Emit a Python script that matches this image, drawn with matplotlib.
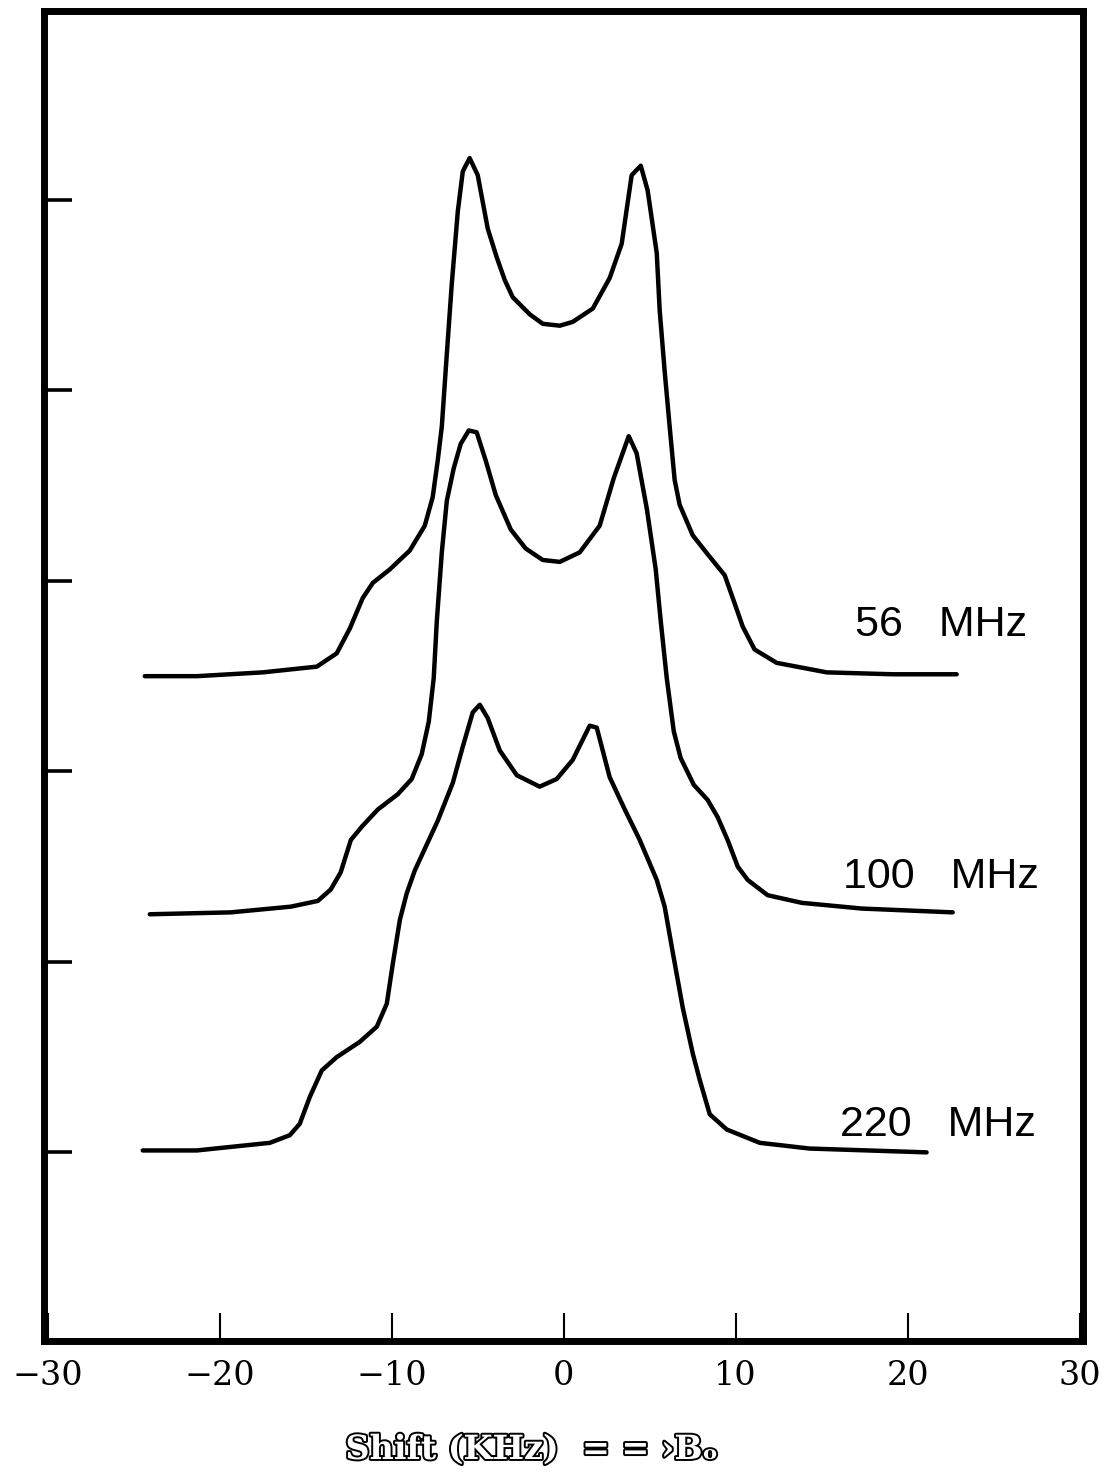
import matplotlib
matplotlib.use("Agg")
import matplotlib.pyplot as plt
import matplotlib.patheffects as pe

# ---- data (shift in kHz, intensity in offset units) ----
x_56 = [-24.36, -21.34, -17.50, -14.36, -13.20, -12.44, -11.69, -11.10, -10.12, -8.95,
        -8.08, -7.62, -7.33, -7.09, -6.80, -6.51, -6.16, -5.87, -5.47, -5.00,
        -4.42, -3.90, -3.43, -2.97, -1.98, -1.22, -0.23, 0.52, 1.69, 2.67, 3.37,
        3.95, 4.48, 4.88, 5.41, 5.58, 5.87, 6.16, 6.45, 6.74, 7.50,
        8.37, 9.36, 9.83, 10.41, 11.10, 12.38, 15.29, 19.13, 22.85]
y_56 = [2.50, 2.50, 2.52, 2.55, 2.62, 2.75, 2.91, 2.99, 3.06, 3.16,
        3.29, 3.44, 3.63, 3.81, 4.19, 4.56, 4.94, 5.15, 5.22, 5.13,
        4.85, 4.70, 4.58, 4.49, 4.40, 4.35, 4.34, 4.36, 4.43, 4.59, 4.77,
        5.13, 5.18, 5.05, 4.72, 4.42, 4.10, 3.81, 3.53, 3.40, 3.24,
        3.14, 3.03, 2.91, 2.76, 2.64, 2.57, 2.52, 2.51, 2.51]

x_100 = [-24.07, -19.36, -15.87, -14.30, -13.55, -12.97, -12.38, -11.74, -10.81, -9.65,
         -8.84, -8.26, -7.85, -7.56, -7.38, -7.09, -6.80, -6.40, -5.99, -5.52,
         -5.06, -4.53, -3.95, -3.08, -2.21, -1.22, -0.23, 0.93, 2.09, 2.91,
         3.78, 4.24, 4.83, 5.35, 5.64, 5.99, 6.40, 6.80, 7.56, 8.37,
         8.95, 9.53, 10.12, 10.70, 11.86, 13.84, 17.33, 22.62]
y_100 = [1.25, 1.26, 1.29, 1.32, 1.38, 1.47, 1.64, 1.71, 1.80, 1.88,
         1.96, 2.09, 2.26, 2.49, 2.79, 3.15, 3.42, 3.59, 3.72, 3.79,
         3.78, 3.63, 3.45, 3.27, 3.17, 3.11, 3.10, 3.15, 3.29, 3.54,
         3.76, 3.67, 3.38, 3.06, 2.79, 2.49, 2.21, 2.07, 1.93, 1.85,
         1.76, 1.64, 1.50, 1.43, 1.35, 1.31, 1.28, 1.26]

x_220 = [-24.48, -21.34, -17.09, -15.93, -15.35, -14.77, -14.07, -13.20, -11.86, -10.87,
         -10.29, -9.94, -9.53, -9.13, -8.66, -8.20, -7.33, -6.45, -5.87, -5.29,
         -4.88, -4.42, -3.72, -2.73, -1.40, -0.41, 0.52, 1.51, 1.92, 2.67,
         3.55, 4.42, 5.41, 5.87, 6.34, 6.92, 7.50, 7.91, 8.49, 9.48,
         11.40, 14.30, 21.10]
y_220 = [0.01, 0.01, 0.05, 0.09, 0.15, 0.29, 0.43, 0.50, 0.58, 0.66,
         0.78, 0.99, 1.22, 1.36, 1.48, 1.57, 1.74, 1.94, 2.13, 2.31,
         2.35, 2.28, 2.11, 1.98, 1.92, 1.96, 2.06, 2.24, 2.23, 1.97,
         1.80, 1.64, 1.43, 1.29, 1.05, 0.76, 0.52, 0.38, 0.20, 0.12,
         0.05, 0.02, 0.00]

labels = ["56   MHz", "100   MHz", "220   MHz"]
label_x = [16.92, 16.25, 16.05]
label_y = [2.71, 1.39, 0.084]

x_ticks = [-30, -20, -10, 0, 10, 20, 30]
y_ticks = [0, 1, 2, 3, 4, 5]
xlabel = "Shift (KHz)  = = \u203aB\u2092"

# ---- figure ----
fig = plt.figure(figsize=(11.16, 14.83), dpi=100)
ax = fig.add_axes([0.0390, 0.0958, 0.9315, 0.8965])

for xs, ys in [(x_56, y_56), (x_100, y_100), (x_220, y_220)]:
    ax.plot(xs, ys, color="black", lw=3.2, solid_joinstyle="round",
            solid_capstyle="round")

for t, tx, ty in zip(labels, label_x, label_y):
    ax.text(tx, ty, t, fontsize=31, family="Liberation Sans",
            ha="left", va="baseline", color="black")

ax.set_xlim(-30.25, 30.2)
ax.set_ylim(-0.99, 5.99)
ax.set_xticks(x_ticks)
ax.set_xticklabels(["\u221230", "\u221220", "\u221210", "0", "10", "20", "30"],
                   family="DejaVu Serif", fontsize=24)
ax.set_yticks(y_ticks)
ax.set_yticklabels([])
ax.tick_params(axis="x", direction="in", length=20, width=1.5, pad=14)
ax.tick_params(axis="y", direction="in", length=20, width=2.6)
for s in ax.spines.values():
    s.set_linewidth(5)

fig.text(532 / 1116, 1 - 1459 / 1483, xlabel, ha="center", va="baseline",
         fontsize=24, family=["DejaVu Serif", "DejaVu Sans"], fontweight="bold",
         color="white",
         path_effects=[pe.withStroke(linewidth=2.8, foreground="black")])

fig.savefig("out.png", dpi=100)
